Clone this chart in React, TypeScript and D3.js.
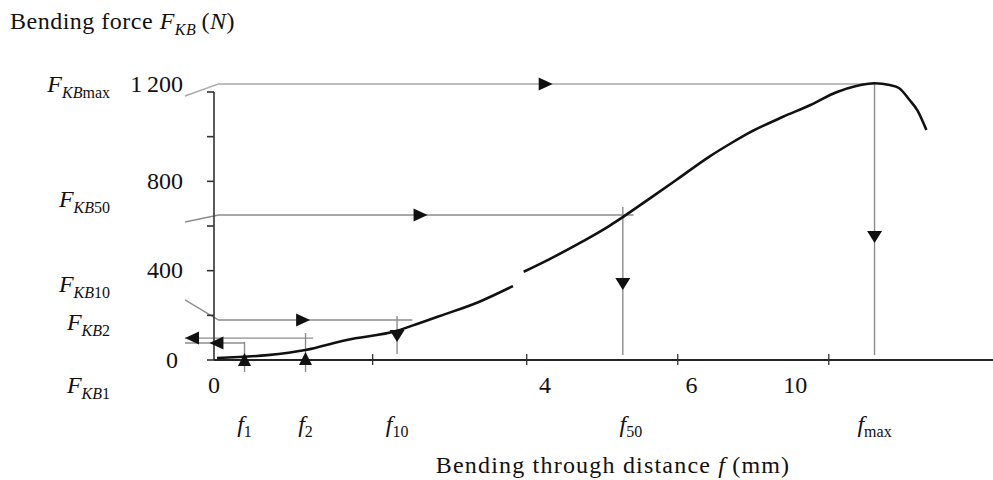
import React, { useEffect, useRef } from 'react';
import * as d3 from 'd3';

// Bending force curve (distance in chart units, force in N); null marks the gap in the trace
const bendDistance = [0.02, 0.35, 0.6, 0.87, 1.2, 1.35, 1.48, 1.74, 1.96, null, 2.03, 2.2, 2.42, 2.6, 2.68, 2.86, 3.03, 3.25, 3.4, 3.51, 3.73, 3.91, 4.08, 4.21, 4.33, 4.43, 4.49, 4.56, 4.61, 4.67];
const bendForce = [9, 22, 45, 90, 131, 166, 197, 261, 331, null, 395, 452, 532, 604, 640, 725, 806, 912, 975, 1018, 1089, 1142, 1199, 1227, 1239, 1231, 1218, 1164, 1119, 1030];

// Characteristic levels: F_KBmax, F_KB50, F_KB10, F_KB2, F_KB1
const levelNames = ['max', '50', '10', '2', '1'];
const levelForce = [1236, 649, 179, 98, 76];
const levelDistance = [4.33, 2.68, 1.2, 0.6, 0.2];
const levelLeaderForce = [1182, 618, 269, 98, 76];
const levelLineEnd = [4.33, 2.75, 1.3, 0.65, 0.2];
const levelDropTop = [1236, 685, 197, 121, 81];
const levelDropBottom = [22, 22, 27, -54, -54];
const levelArrowAlong = [2.22, 1.4, 0.63, -0.19, -0.03];
const levelArrowDrop = [524, 313, 81, 36, 31];
const levelReadFromForce = [true, true, true, false, false];

// Axis ticks
const yTicks = [0, 200, 400, 600, 800, 1000, 1200];
const yTickLabels = [0, 400, 800, 1200];
const xTicks = [1.04, 2.05, 3.04, 4.03];
const xTickLabels = ['0', '4', '6', '10'];
const xTickLabelAt = [0, 2.17, 3.13, 3.81];

const FONT = "'Liberation Serif', 'Times New Roman', serif";

const App = () => {
  const ref = useRef<SVGSVGElement>(null);

  useEffect(() => {
    const width = 993;
    const height = 480;
    const svg = d3.select(ref.current!);
    svg.selectAll('*').remove();
    svg.attr('width', width).attr('height', height)
      .attr('font-family', FONT)
      .style('background', '#fff');

    const x = d3.scaleLinear().domain([0, 5.1]).range([214, 992]);
    const y = d3.scaleLinear().domain([0, 1200]).range([360, 92]);
    const leftEdge = -0.19;

    const guide = '#8c8c8c';
    const ink = '#111';

    // triangle arrow with its tip at (tx, ty)
    const arrow = (tx: number, ty: number, dir: 'left' | 'right' | 'up' | 'down') => {
      const len = 14, hw = 6.5;
      let pts: [number, number][];
      if (dir === 'right') pts = [[tx, ty], [tx - len, ty - hw], [tx - len, ty + hw]];
      else if (dir === 'left') pts = [[tx, ty], [tx + len, ty - hw], [tx + len, ty + hw]];
      else if (dir === 'down') pts = [[tx, ty], [tx - hw - 1, ty - len + 2], [tx + hw + 1, ty - len + 2]];
      else pts = [[tx, ty], [tx - hw, ty + len - 1], [tx + hw, ty + len - 1]];
      svg.append('path').attr('d', 'M' + pts.map(p => p.join(',')).join('L') + 'Z').attr('fill', ink);
    };

    // horizontal guide lines with leaders to the left labels
    levelNames.forEach((name, i) => {
      const pts: [number, number][] = [
        [x(leftEdge), y(levelLeaderForce[i])],
        [x(0.03), y(levelForce[i])],
        [x(levelLineEnd[i]), y(levelForce[i])]
      ];
      svg.append('path')
        .attr('d', d3.line()(pts))
        .attr('fill', 'none')
        .attr('stroke', i === 0 ? '#a8a8a8' : guide)
        .attr('stroke-width', 1.4);
    });

    // vertical drop lines
    levelNames.forEach((name, i) => {
      svg.append('line')
        .attr('x1', x(levelDistance[i])).attr('x2', x(levelDistance[i]))
        .attr('y1', y(levelDropTop[i])).attr('y2', y(levelDropBottom[i]))
        .attr('stroke', guide)
        .attr('stroke-width', 1.4);
    });

    // axes
    svg.append('line')
      .attr('x1', x(0)).attr('x2', x(0))
      .attr('y1', y(1200)).attr('y2', y(0))
      .attr('stroke', '#333').attr('stroke-width', 1.6);
    svg.selectAll('.ytick').data(yTicks).enter().append('line')
      .attr('x1', x(0) - 7).attr('x2', x(0))
      .attr('y1', d => y(d)).attr('y2', d => y(d))
      .attr('stroke', '#333').attr('stroke-width', 1.6);
    svg.append('line')
      .attr('x1', x(0)).attr('x2', width)
      .attr('y1', y(0)).attr('y2', y(0))
      .attr('stroke', '#222').attr('stroke-width', 1.8);
    svg.selectAll('.xtick').data(xTicks).enter().append('line')
      .attr('x1', d => x(d)).attr('x2', d => x(d))
      .attr('y1', y(0) - 6).attr('y2', y(0) + 5)
      .attr('stroke', '#333').attr('stroke-width', 1.3);

    // force curve
    const curve = bendDistance.map((d, i) => [d, bendForce[i]] as [number | null, number | null]);
    const line = d3.line<[number | null, number | null]>()
      .defined(d => d[0] !== null && d[1] !== null)
      .x(d => x(d[0]!))
      .y(d => y(d[1]!))
      .curve(d3.curveMonotoneX);
    svg.append('path')
      .attr('d', line(curve))
      .attr('fill', 'none')
      .attr('stroke', ink)
      .attr('stroke-width', 2.6);

    // arrows
    levelNames.forEach((name, i) => {
      const fromForce = levelReadFromForce[i];
      arrow(x(levelArrowAlong[i]), y(levelForce[i]), fromForce ? 'right' : 'left');
      arrow(x(levelDistance[i]), y(levelArrowDrop[i]), fromForce ? 'down' : 'up');
    });

    // y tick labels (the top one sits level with the F_KBmax line)
    const yMax = d3.max(yTickLabels)!;
    svg.selectAll('.ylab').data(yTickLabels).enter().append('text')
      .attr('x', d => (d === 0 ? x(0) - 36 : x(0) - 31))
      .attr('y', d => y(d))
      .attr('dy', d => (d === yMax ? '0em' : '0.32em'))
      .attr('text-anchor', 'end')
      .attr('font-size', 24)
      .attr('fill', ink)
      .text(d => d3.format(',')(d).replace(',', '\u2009'));

    // x tick labels
    svg.selectAll('.xlab').data(xTickLabels).enter().append('text')
      .attr('x', (d, i) => x(xTickLabelAt[i]))
      .attr('y', 393)
      .attr('text-anchor', 'middle')
      .attr('font-size', 24)
      .attr('fill', ink)
      .text(d => d);

    // F_KB labels on the left
    const leftLabelBase = [92, 207, 292, 330, 393];
    levelNames.forEach((name, i) => {
      const t = svg.append('text')
        .attr('x', 110)
        .attr('y', leftLabelBase[i])
        .attr('text-anchor', 'end')
        .attr('fill', ink);
      t.append('tspan').attr('font-size', 24).attr('font-style', 'italic').text('F');
      t.append('tspan').attr('font-size', 16).attr('font-style', 'italic').attr('dy', 6).text('KB');
      t.append('tspan').attr('font-size', 16).text(name);
    });

    // f labels below the axis
    levelNames.forEach((name, i) => {
      const t = svg.append('text')
        .attr('x', x(levelDistance[i]) + (name === '50' ? 8 : 0))
        .attr('y', 432)
        .attr('text-anchor', 'middle')
        .attr('fill', ink);
      t.append('tspan').attr('font-size', 24).attr('font-style', 'italic').text('f');
      t.append('tspan').attr('font-size', 16).attr('dy', 5).text(name);
    });

    // axis titles
    const yt = svg.append('text').attr('x', 10).attr('y', 29).attr('fill', ink)
      .attr('font-size', 24).attr('letter-spacing', 0.5);
    yt.append('tspan').text('Bending force ');
    yt.append('tspan').attr('font-style', 'italic').text('F');
    yt.append('tspan').attr('font-style', 'italic').attr('font-size', 16).attr('dy', 6).text('KB');
    yt.append('tspan').attr('dy', -6).text('\u2009(');
    yt.append('tspan').attr('font-style', 'italic').text('N');
    yt.append('tspan').text(')');

    const xt = svg.append('text').attr('x', 613).attr('y', 473).attr('text-anchor', 'middle')
      .attr('fill', ink).attr('font-size', 24).attr('letter-spacing', 1.2);
    xt.append('tspan').text('Bending through distance ');
    xt.append('tspan').attr('font-style', 'italic').text('f');
    xt.append('tspan').text('\u2009(mm)');
  }, []);

  return (
    <svg ref={ref} style={{ position: 'absolute', left: 0, top: 0, display: 'block' }} />
  );
};

export default App;
